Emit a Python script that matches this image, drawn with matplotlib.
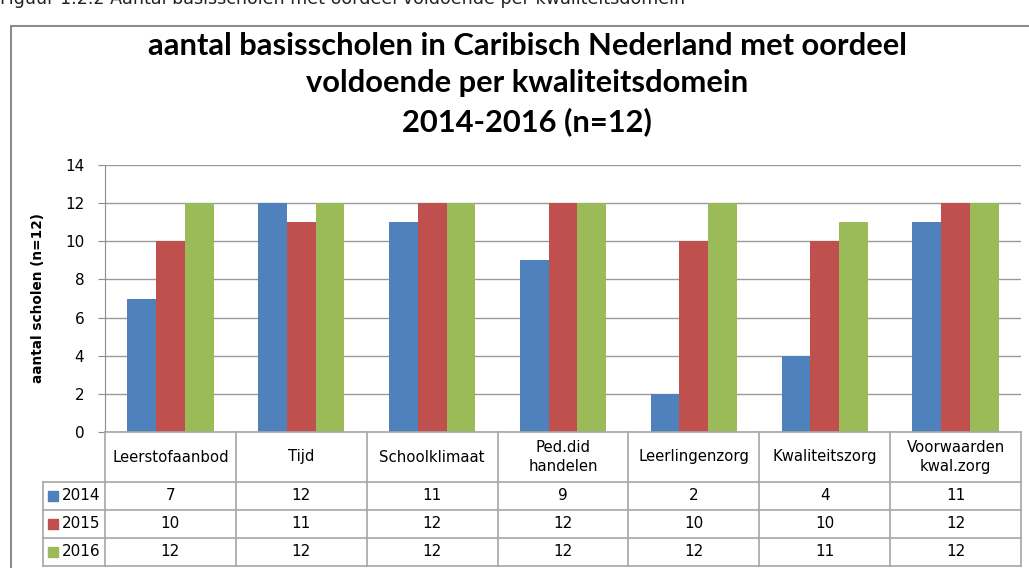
import matplotlib
matplotlib.use("Agg")
import matplotlib.pyplot as plt
from matplotlib.patches import Rectangle
import numpy as np

categories = ["Leerstofaanbod", "Tijd", "Schoolklimaat", "Ped.did\nhandelen",
              "Leerlingenzorg", "Kwaliteitszorg", "Voorwaarden\nkwal.zorg"]
years = ["2014", "2015", "2016"]
v2014 = [7, 12, 11, 9, 2, 4, 11]
v2015 = [10, 11, 12, 12, 10, 10, 12]
v2016 = [12, 12, 12, 12, 12, 11, 12]
series = [v2014, v2015, v2016]
colors = ["#4F81BD", "#C0504D", "#9BBB59"]
yticks = [0, 2, 4, 6, 8, 10, 12, 14]

W, H = 1029, 568
fig = plt.figure(figsize=(W / 100, H / 100), dpi=100)

def fx(px):
    return px / W

def fy(py):
    return 1 - py / H

# caption (cropped at top)
fig.text(fx(0), fy(3.5), "Figuur 1.2.2 Aantal basisscholen met oordeel voldoende per kwaliteitsdomein",
         fontsize=12.6, family="DejaVu Sans", va="baseline", ha="left", color="#222222")

# outer chart border
fig.patches.append(Rectangle((fx(11), fy(600)), fx(1100), fy(26) - fy(600),
                             transform=fig.transFigure, fill=False,
                             edgecolor="#8c8c8c", linewidth=1.5))

# title
fig.text(fx(527), fy(84), "aantal basisscholen in Caribisch Nederland met oordeel\nvoldoende per kwaliteitsdomein\n2014-2016 (n=12)",
         ha="center", va="center", fontsize=22.2, fontweight="bold", family="Lato",
         linespacing=1.42, color="#000000")

left, right, top, bottom = 105, 1021, 165, 432
ax = fig.add_axes([fx(left), fy(bottom), fx(right - left), fy(top) - fy(bottom)])
n = len(categories)
x = np.arange(n)
bw = 0.22
for i, (vals, c) in enumerate(zip(series, colors)):
    ax.bar(x + (i - 1) * bw, vals, width=bw, color=c, zorder=3, linewidth=0)
ax.set_xlim(-0.5, n - 0.5)
ax.set_ylim(0, 14)
ax.set_yticks(yticks)
ax.set_yticklabels([str(t) for t in yticks], fontsize=11, family="DejaVu Sans")
ax.tick_params(axis="y", length=5, color="#8c8c8c", pad=10)
ax.set_xticks([])
ax.grid(axis="y", color="#9a9a9a", linewidth=1, zorder=0)
for s in ["top", "right", "bottom"]:
    ax.spines[s].set_visible(False)
ax.spines["left"].set_color("#8c8c8c")
ax.set_ylabel("aantal scholen (n=12)", fontsize=9.8, fontweight="bold", labelpad=14)

# data table
tleft = 43
cw = (right - left) / n
xl = -0.5 - (left - tleft) / cw
tax = fig.add_axes([fx(tleft), fy(566), fx(right - tleft), fy(432) - fy(566)])
tax.set_xlim(xl, n - 0.5)
tax.set_ylim(134, 0)
tax.axis("off")
lc = "#a6a6a6"
lw = 1.2
rows_y = [50, 78, 106, 134]
for k in range(n + 1):
    tax.plot([-0.5 + k, -0.5 + k], [0, 134], color=lc, lw=lw, clip_on=False)
tax.plot([xl, xl], [50, 134], color=lc, lw=lw, clip_on=False)
tax.plot([-0.5, n - 0.5], [0, 0], color=lc, lw=lw, clip_on=False)
for yy in rows_y:
    tax.plot([xl, n - 0.5], [yy, yy], color=lc, lw=lw, clip_on=False)
for j, cat in enumerate(categories):
    tax.text(j, 25, cat, ha="center", va="center", fontsize=10.7, family="DejaVu Sans",
             linespacing=1.3)
for r, (yr, vals, c) in enumerate(zip(years, series, colors)):
    yc = (rows_y[r] + rows_y[r + 1]) / 2
    tax.scatter([xl + 10 / cw], [yc], marker="s", s=45, color=c, clip_on=False)
    tax.text(xl + 19 / cw, yc, yr, ha="left", va="center", fontsize=11, family="DejaVu Sans")
    for j, v in enumerate(vals):
        tax.text(j, yc, str(v), ha="center", va="center", fontsize=11, family="DejaVu Sans")

fig.savefig("out.png", dpi=100)
